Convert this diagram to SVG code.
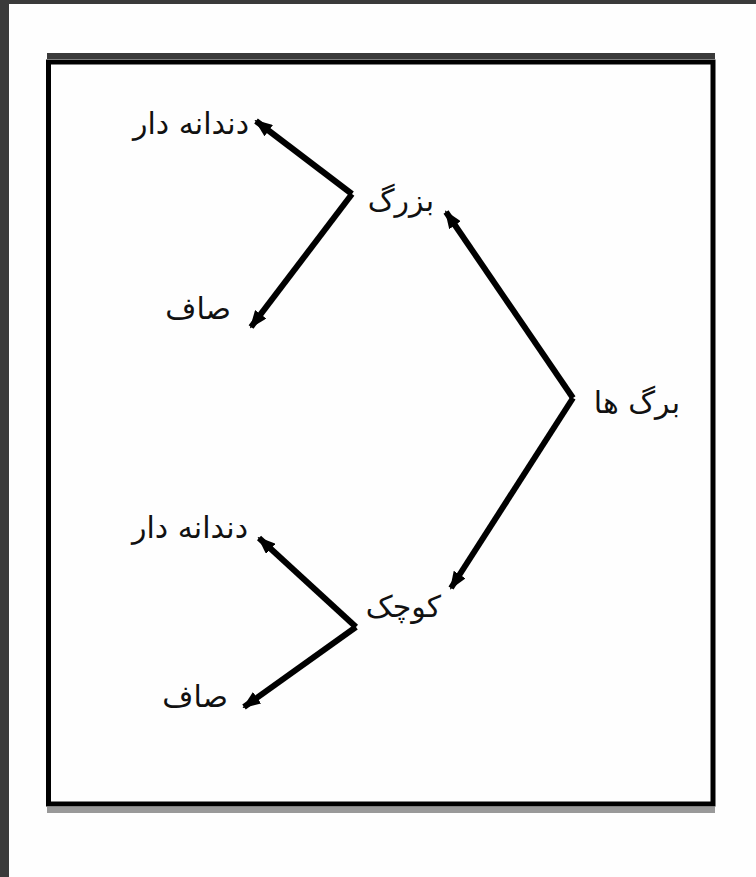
<svg xmlns="http://www.w3.org/2000/svg" width="756" height="877" viewBox="0 0 756 877">
<defs>
<style>
.lbl{font-family:"DejaVu Sans","Noto Sans",sans-serif;font-size:30px;fill:#111;text-anchor:end;}
.conn{stroke:#000;stroke-width:6;fill:none;marker-end:url(#ah);}
</style>
<marker id="ah" viewBox="0 0 18 14" refX="16" refY="7" markerWidth="18" markerHeight="14" markerUnits="userSpaceOnUse" orient="auto">
<path d="M0,0 L18,7 L0,14 Z" fill="#000"/>
</marker>
</defs>
<rect x="0" y="0" width="756" height="877" fill="#fefefe"/>
<rect x="0" y="0" width="756" height="4" fill="#3a3a3a"/>
<rect x="0" y="0" width="9" height="877" fill="#3a3a3a"/>
<g id="frame">
<rect x="47" y="53" width="668" height="6" fill="#3a3a3a"/>
<rect x="47" y="807" width="668" height="6" fill="#999"/>
<rect x="48.5" y="62" width="664.5" height="742" fill="none" stroke="#000" stroke-width="5"/>
</g>
<g id="connectors">
<line class="conn" x1="573" y1="398" x2="446" y2="212"/>
<line class="conn" x1="573" y1="398" x2="451" y2="588"/>
<line class="conn" x1="352" y1="194" x2="256" y2="121"/>
<line class="conn" x1="352" y1="194" x2="251" y2="327"/>
<line class="conn" x1="356" y1="627" x2="259" y2="538"/>
<line class="conn" x1="356" y1="627" x2="244" y2="707"/>
</g>
<g id="leaves"><text class="lbl" x="680" y="413">برگ ها</text></g>
<g id="large"><text class="lbl" x="434" y="211">بزرگ</text></g>
<g id="small"><text class="lbl" x="441" y="617">کوچک</text></g>
<g id="large-serrated"><text class="lbl" x="249" y="134">دندانه دار</text></g>
<g id="large-smooth"><text class="lbl" x="231" y="319">صاف</text></g>
<g id="small-serrated"><text class="lbl" x="248" y="538">دندانه دار</text></g>
<g id="small-smooth"><text class="lbl" x="228" y="707">صاف</text></g>
</svg>
